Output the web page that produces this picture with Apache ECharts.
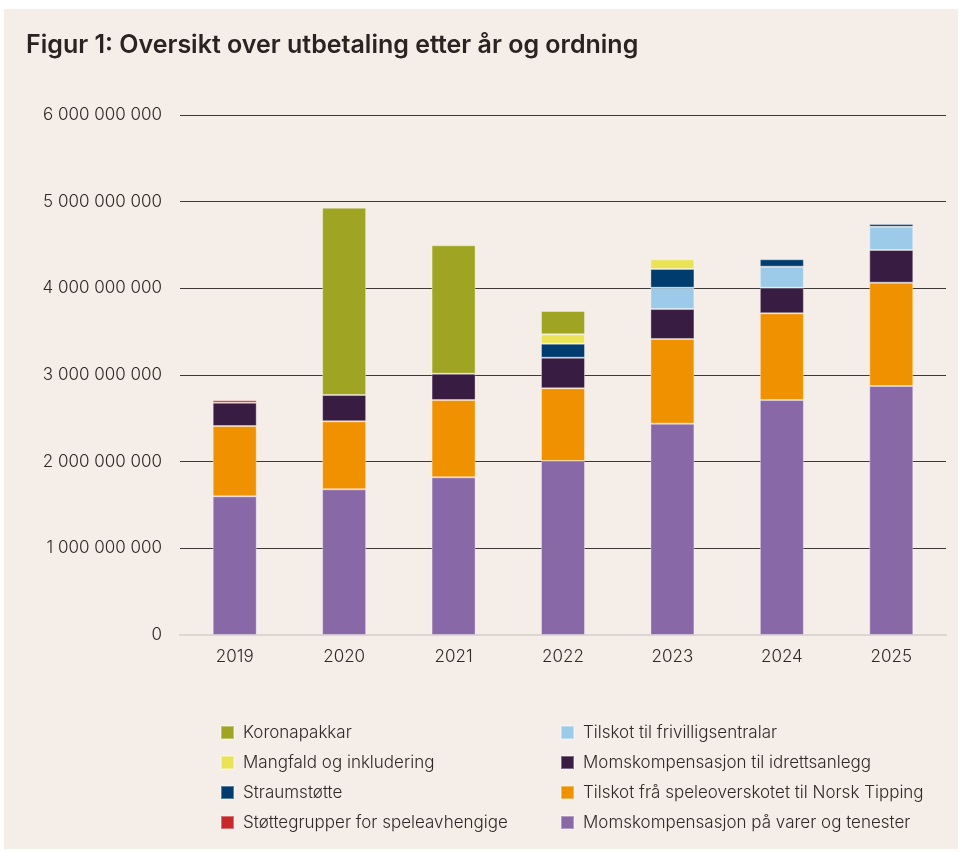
<!DOCTYPE html>
<html>
<head>
<meta charset="utf-8">
<title>Figur 1</title>
<script src="https://cdn.jsdelivr.net/npm/echarts@6/dist/echarts.min.js"></script>
<style>
  html, body { margin: 0; padding: 0; background: #ffffff; }
  .panel { position: absolute; left: 4px; top: 9px; width: 954px; height: 840px; background: #f5ede8; }
  #chart { position: absolute; left: 0; top: 0; width: 961px; height: 852px; }
</style>
</head>
<body>
<div class="panel"></div>
<div id="chart"></div>
<script>
// år
const years = ['2019', '2020', '2021', '2022', '2023', '2024', '2025']

// utbetaling per ordning (kr)
const momsVarer = [1600000000, 1681000000, 1819000000, 2008000000, 2438000000, 2711000000, 2873000000]
const speleoverskot = [811000000, 785000000, 892000000, 838000000, 977000000, 1001000000, 1192000000]
const momsIdrett = [269000000, 303000000, 304000000, 354000000, 346000000, 295000000, 377000000]
const frivilligsentralar = [null, null, null, null, 246000000, 243000000, 269000000]
const straumstotte = [null, null, null, 161000000, 216000000, 85000000, 31000000]
const mangfald = [null, null, null, 108000000, 112000000, null, null]
const koronapakkar = [null, 2161000000, 1481000000, 269000000, null, null, null]
const stottegrupper = [28000000, null, null, null, null, null, null]

const yTicks = [0, 1000000000, 2000000000, 3000000000, 4000000000, 5000000000, 6000000000]

const chart = echarts.init(document.getElementById('chart'))

const fmt = v => v === 0 ? '0' : String(v).replace(/\B(?=(\d{3})+(?!\d))/g, ' ')

const bar = (name, data, color) => ({
  name,
  type: 'bar',
  stack: 'total',
  data,
  barWidth: 44,
  itemStyle: { color, borderColor: 'rgba(255,255,255,0.35)', borderWidth: 1 }
})

const legendText = { fontFamily: 'Inter', fontSize: 17, fontWeight: 300, color: '#2f2927', padding: [0, 0, 0, 4] }

chart.setOption({
  backgroundColor: 'transparent',
  animation: false,
  title: {
    text: 'Figur 1: Oversikt over utbetaling etter år og ordning',
    left: 21,
    top: 28,
    textStyle: { fontFamily: 'Inter', fontSize: 25, fontWeight: 600, color: '#2b2321' }
  },
  legend: [
    {
      orient: 'vertical',
      left: 215,
      top: 719,
      itemWidth: 13,
      itemHeight: 13,
      itemGap: 13,
      icon: 'rect',
      textStyle: legendText,
      data: ['Koronapakkar', 'Mangfald og inkludering', 'Straumstøtte', 'Støttegrupper for speleavhengige']
    },
    {
      orient: 'vertical',
      left: 555,
      top: 719,
      itemWidth: 13,
      itemHeight: 13,
      itemGap: 13,
      icon: 'rect',
      textStyle: legendText,
      data: ['Tilskot til frivilligsentralar', 'Momskompensasjon til idrettsanlegg', 'Tilskot frå speleoverskotet til Norsk Tipping', 'Momskompensasjon på varer og tenester']
    }
  ],
  grid: { left: 180, right: 15, top: 115, bottom: 217 },
  xAxis: {
    type: 'category',
    data: years,
    axisTick: { show: false },
    axisLine: { lineStyle: { color: '#dcd5d1', width: 2 } },
    axisLabel: { fontFamily: 'Inter', fontSize: 17, fontWeight: 300, color: '#2f2927', margin: 13 }
  },
  yAxis: {
    type: 'value',
    min: yTicks[0],
    max: yTicks[yTicks.length - 1],
    interval: 1000000000,
    axisLine: { show: false },
    axisTick: { show: false },
    splitLine: { lineStyle: { color: '#3d3936', width: 1 } },
    axisLabel: { fontFamily: 'Inter', fontSize: 17, fontWeight: 300, color: '#2f2927', margin: 18, formatter: fmt }
  },
  series: [
    bar('Momskompensasjon på varer og tenester', momsVarer, '#8968a8'),
    bar('Tilskot frå speleoverskotet til Norsk Tipping', speleoverskot, '#f09200'),
    bar('Momskompensasjon til idrettsanlegg', momsIdrett, '#391c42'),
    bar('Tilskot til frivilligsentralar', frivilligsentralar, '#9ccbea'),
    bar('Straumstøtte', straumstotte, '#003d6e'),
    bar('Mangfald og inkludering', mangfald, '#ebe356'),
    bar('Koronapakkar', koronapakkar, '#9fa522'),
    bar('Støttegrupper for speleavhengige', stottegrupper, '#c8282a')
  ]
})
</script>
</body>
</html>
